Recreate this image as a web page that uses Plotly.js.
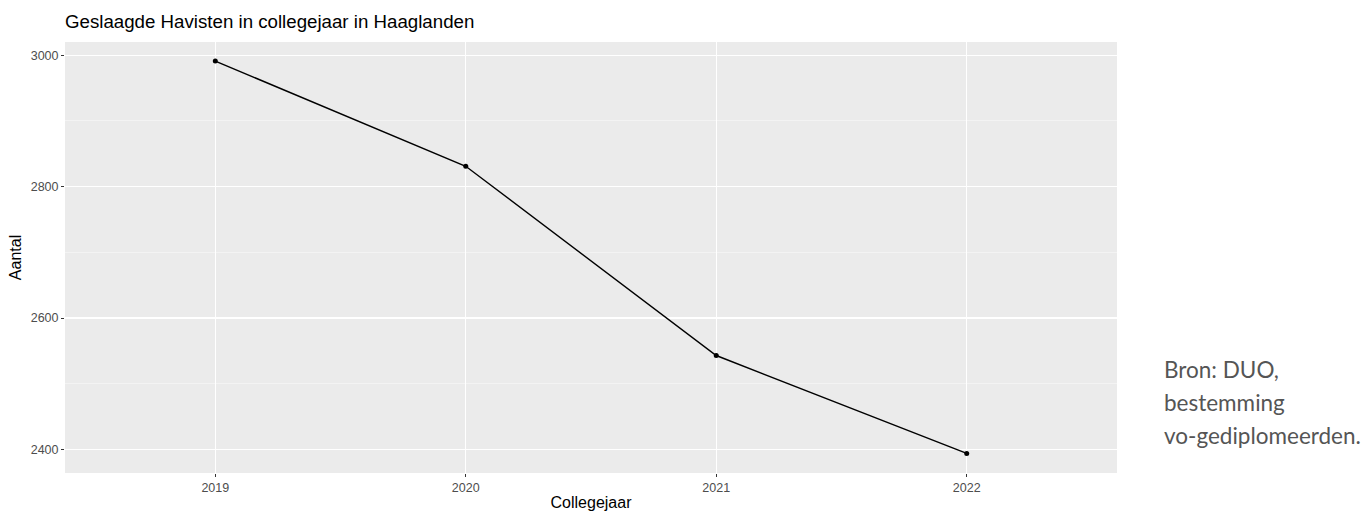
<!DOCTYPE html>
<html>
<head>
<meta charset="utf-8">
<script src="https://cdn.plot.ly/plotly-3.0.1.min.js"></script>
<style>html,body{margin:0;padding:0;background:#fff;}#chart{width:1368px;height:511px;}</style>
</head>
<body>
<div id="chart"></div>
<script>
const years = ['2019', '2020', '2021', '2022'];
const aantal = [2991, 2831, 2543, 2394];
const yTicks = [2400, 2600, 2800, 3000];
const chartTitle = 'Geslaagde Havisten in collegejaar in Haaglanden';
const xTitle = 'Collegejaar';
const yTitle = 'Aantal';
const sourceLines = ['Bron: DUO,', 'bestemming', 'vo-gediplomeerden.'];

const trace = {
  x: years, y: aantal, type: 'scatter', mode: 'lines+markers',
  line: {color: '#000', width: 1.4},
  marker: {color: '#000', size: 5},
  hoverinfo: 'x+y'
};

const srcTop = 369, srcStep = 33, plotTop = 42, plotH = 431;
const annotations = sourceLines.map((t, i) => ({
  xref: 'paper', yref: 'paper', x: 1 + (1162 - 1117) / 1052,
  y: 1 - (srcTop + i * srcStep - plotTop) / plotH,
  xanchor: 'left', yanchor: 'middle', align: 'left', showarrow: false,
  text: t,
  font: {family: 'Lato, Open Sans, sans-serif', size: 22.5, color: '#555'}
}));

const layout = {
  width: 1368, height: 511,
  margin: {l: 65, r: 251, t: 42, b: 38},
  paper_bgcolor: '#fff', plot_bgcolor: '#ebebeb',
  showlegend: false,
  font: {family: 'Liberation Sans, Arial, sans-serif'},
  title: {text: chartTitle, x: 0, xanchor: 'left', xref: 'paper', y: 1, yref: 'container', yanchor: 'top', pad: {t: 15},
          font: {size: 18.7, color: '#000', family: 'Liberation Sans, Arial, sans-serif'}},
  xaxis: {
    type: 'category', range: [-0.6, 3.6], showgrid: true, gridcolor: '#fff', gridwidth: 1.3,
    zeroline: false, showline: false, ticks: 'outside', ticklen: 3, tickcolor: '#333', tickwidth: 1,
    tickfont: {size: 12.5, color: '#4d4d4d'},
    title: {text: xTitle, font: {size: 16, color: '#000'}, standoff: 7}
  },
  yaxis: {
    range: [2364.2, 3020.1], tickvals: yTicks, ticktext: yTicks.map(String),
    showgrid: true, gridcolor: '#fff', gridwidth: 1.3, zeroline: false, showline: false,
    ticks: 'outside', ticklen: 3, tickcolor: '#333', tickwidth: 1,
    tickfont: {size: 12.5, color: '#4d4d4d'},
    minor: {tickvals: [2500, 2700, 2900], showgrid: true, gridcolor: '#f7f7f7', gridwidth: 0.7, ticks: ''},
    title: {text: yTitle, font: {size: 16, color: '#000'}, standoff: 5}
  },
  annotations: annotations
};

Plotly.newPlot('chart', [trace], layout, {displayModeBar: false, staticPlot: true});
</script>
</body>
</html>
